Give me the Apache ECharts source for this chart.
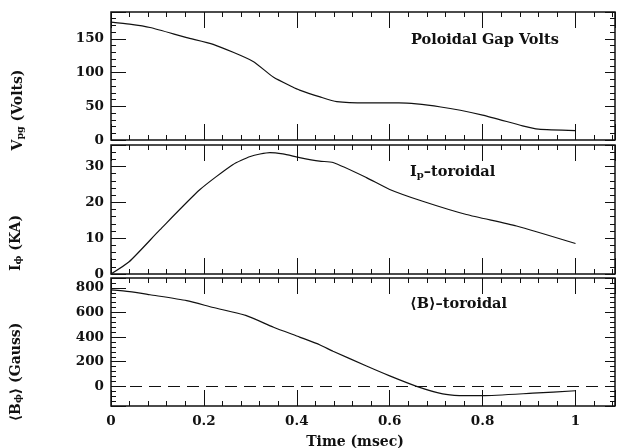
<!DOCTYPE html>
<html>
<head>
<meta charset="utf-8">
<script src="https://cdn.jsdelivr.net/npm/echarts@6/dist/echarts.min.js"></script>
<style>
  html, body { margin: 0; padding: 0; background: #fff; }
  #chart { width: 620px; height: 448px; }
</style>
</head>
<body>
<div id="chart"></div>
<script>
// poloidal gap volts
const voltTime = [0, 0.04, 0.084, 0.163, 0.22, 0.305, 0.35, 0.39, 0.406, 0.45, 0.486, 0.55, 0.62, 0.71, 0.8, 0.886, 0.92, 1.0];
const voltValue = [175, 172, 167, 152, 142, 117, 93, 79, 74, 64, 57, 55, 55, 49, 37, 21, 16, 14];

// toroidal current (KA)
const curTime = [0, 0.039, 0.105, 0.191, 0.262, 0.3, 0.342, 0.37, 0.406, 0.449, 0.478, 0.55, 0.6, 0.671, 0.765, 0.873, 1.0];
const curValue = [0, 3.4, 12.3, 23.5, 30.5, 32.8, 33.9, 33.5, 32.5, 31.5, 31.1, 26.9, 23.6, 20.3, 16.6, 13.4, 8.5];

// toroidal field (Gauss)
const bTime = [0, 0.04, 0.084, 0.163, 0.22, 0.29, 0.35, 0.406, 0.45, 0.478, 0.55, 0.6, 0.658, 0.714, 0.75, 0.8, 0.908, 1.0];
const bValue = [784, 770, 744, 696, 640, 576, 480, 400, 336, 285, 165, 85, 0, -62, -75, -76, -56, -36];

const pair = (xs, ys) => xs.map((x, i) => [x, ys[i]]);

const tickFont = { color: "#111", fontFamily: "DejaVu Serif", fontWeight: "bold", fontSize: 13.5 };
const thin = { color: "#111", width: 1 };

const panels = [
  { top: 12, height: 128, min: 0, max: 190, split: 4, showMin: true },
  { top: 145, height: 129, min: 0, max: 36, split: 4, showMin: true },
  { top: 278, height: 128, min: -160, max: 880, split: 5, showMin: false }
];

const grids = [];
const xAxes = [];
const yAxes = [];
panels.forEach((p, pi) => {
  grids.push({
    left: 111, width: 504, top: p.top, height: p.height,
    show: true, borderColor: "#111", borderWidth: 1.5, backgroundColor: "transparent"
  });
  ["bottom", "top"].forEach((pos) => {
    xAxes.push({
      type: "value", gridIndex: pi, position: pos, min: 0, max: 1.085, splitNumber: 5,
      axisLine: { show: false, onZero: false },
      axisTick: { show: true, inside: true, length: 16, lineStyle: thin },
      minorTick: { show: true, splitNumber: 5, length: 5, lineStyle: thin },
      axisLabel: { show: pi === 2 && pos === "bottom", showMinLabel: true, showMaxLabel: false, margin: 8, ...tickFont },
      splitLine: { show: false }, minorSplitLine: { show: false }
    });
  });
  ["left", "right"].forEach((pos) => {
    yAxes.push({
      type: "value", gridIndex: pi, position: pos, min: p.min, max: p.max, splitNumber: p.split,
      axisLine: { show: false, onZero: false },
      axisTick: { show: true, inside: true, length: pos === "left" ? 15 : 10, lineStyle: thin },
      minorTick: { show: true, splitNumber: 5, length: 5, lineStyle: thin },
      axisLabel: { show: pos === "left", showMinLabel: p.showMin, showMaxLabel: false, margin: 7, ...tickFont },
      splitLine: { show: false }, minorSplitLine: { show: false }
    });
  });
});

const lineSeries = (pi, data, extra) => Object.assign({
  type: "line", xAxisIndex: pi * 2, yAxisIndex: pi * 2, data: data,
  showSymbol: false, smooth: 0.2, silent: true,
  lineStyle: { color: "#111", width: 1.2 }
}, extra || {});

const labelFont = "bold 14px DejaVu Serif, DejaVu Sans";
const noteFont = "bold 14.5px DejaVu Serif, DejaVu Sans";
const subRich = {
  a: { font: labelFont, fill: "#111", lineHeight: 18 },
  s: { font: "bold 9.5px DejaVu Serif, DejaVu Sans", fill: "#111", lineHeight: 18, verticalAlign: "bottom", padding: [0, 0, 1, 0] }
};
const noteRich = {
  a: { font: noteFont, fill: "#111", lineHeight: 18 },
  s: { font: "bold 10px DejaVu Serif, DejaVu Sans", fill: "#111", lineHeight: 18, verticalAlign: "bottom", padding: [0, 0, 1, 0] }
};

const option = {
  animation: false,
  backgroundColor: "#fff",
  grid: grids,
  xAxis: xAxes,
  yAxis: yAxes,
  series: [
    lineSeries(0, pair(voltTime, voltValue)),
    lineSeries(1, pair(curTime, curValue)),
    lineSeries(2, pair(bTime, bValue), {
      markLine: {
        silent: true, symbol: "none", label: { show: false },
        lineStyle: { color: "#111", width: 1, type: [12, 7] },
        data: [{ yAxis: 0 }]
      }
    })
  ],
  graphic: [
    { type: "text", left: 411, top: 33, style: { text: "Poloidal Gap Volts", font: noteFont, fill: "#111" } },
    { type: "text", left: 410, top: 165, style: { text: "{a|I}{s|p}{a|\u2013toroidal}", rich: noteRich } },
    { type: "text", left: 410, top: 297, style: { text: "\u27E8B\u27E9\u2013toroidal", font: noteFont, fill: "#111" } },
    { type: "text", x: 18, y: 110, rotation: Math.PI / 2,
      style: { text: "{a|V}{s|pg}{a| (Volts)}", rich: subRich, align: "center", verticalAlign: "middle" } },
    { type: "text", x: 16, y: 243, rotation: Math.PI / 2,
      style: { text: "{a|I}{s|\u03D5}{a| (KA)}", rich: subRich, align: "center", verticalAlign: "middle" } },
    { type: "text", x: 16, y: 372, rotation: Math.PI / 2,
      style: { text: "{a|\u27E8B}{s|\u03D5}{a|\u27E9 (Gauss)}", rich: subRich, align: "center", verticalAlign: "middle" } },
    { type: "text", x: 355, y: 442, style: { text: "Time (msec)", font: labelFont, fill: "#111", align: "center", verticalAlign: "middle" } }
  ]
};

const chart = echarts.init(document.getElementById("chart"));
chart.setOption(option);
</script>
</body>
</html>
